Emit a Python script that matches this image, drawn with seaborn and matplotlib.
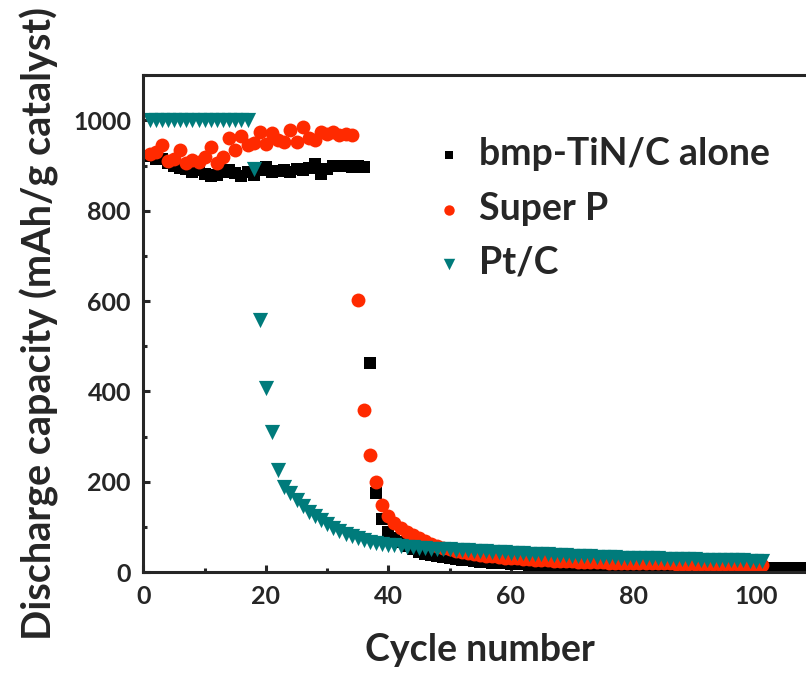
import numpy as np
import pandas as pd
import seaborn as sns
import matplotlib.pyplot as plt
from matplotlib.ticker import MultipleLocator

# discharge capacity (mAh/g catalyst), one value per cycle
bmp_tin = [920, 915, 915, 905, 900, 895, 893, 886, 890, 882,
           876, 880, 886, 890, 883, 876, 886, 880, 890, 897,
           886, 888, 890, 886, 893, 890, 895, 904, 882, 893,
           898, 900, 900, 897, 899, 897, 463, 176, 117, 89,
           76, 66, 57, 50, 45, 41, 38, 35, 33, 31,
           29, 27, 26, 24, 23, 22, 21, 20, 19, 18,
           17, 17, 16, 16, 15, 15, 14, 14, 13, 13,
           13, 12, 12, 12, 11, 11, 11, 11, 10, 10,
           10, 10, 10, 9, 9, 9, 9, 9, 9, 9,
           8, 8, 8, 8, 8, 8, 8, 8, 8, 8,
           8, 8, 8, 8, 8, 8, 8, 8, 8, 8]
super_p = [925, 930, 945, 910, 915, 935, 905, 912, 908, 918,
           940, 905, 918, 960, 935, 965, 945, 950, 975, 948,
           972, 956, 952, 978, 952, 985, 962, 956, 974, 970,
           974, 968, 970, 967, 602, 358, 259, 200, 148, 125,
           108, 97, 88, 81, 75, 69, 63, 58, 54, 50,
           47, 44, 42, 40, 38, 36, 35, 33, 32, 31,
           30, 29, 28, 27, 27, 26, 25, 25, 24, 24,
           23, 23, 22, 22, 22, 21, 21, 21, 20, 20,
           20, 20, 19, 19, 19, 19, 18, 18, 18, 18,
           18, 17, 17, 17, 17, 17, 17, 16, 16, 16,
           16]
pt_c = [1000, 1000, 1000, 1000, 1000, 1000, 1000, 1000, 1000, 1000,
        1000, 1000, 1000, 1000, 1000, 1000, 1000, 893, 557, 407,
        310, 226, 189, 175, 160, 146, 134, 124, 115, 106,
        98, 91, 84, 79, 75, 71, 67, 64, 62, 60,
        59, 57, 56, 55, 54, 53, 52, 52, 51, 50,
        49, 48, 48, 47, 46, 46, 45, 44, 44, 43,
        42, 42, 41, 40, 40, 39, 38, 38, 37, 36,
        36, 35, 35, 34, 34, 33, 33, 32, 32, 31,
        31, 30, 30, 30, 29, 29, 29, 28, 28, 28,
        27, 27, 27, 27, 26, 26, 26, 26, 25, 25,
        25]

labels = ["bmp-TiN/C alone", "Super P", "Pt/C"]
colors = ["#000000", "#FF2A00", "#007B7B"]

sns.set_style("ticks")
plt.rcParams['font.family'] = ['Lato', 'DejaVu Sans']
plt.rcParams['font.weight'] = 'bold'

fig = plt.figure(figsize=(8.06, 6.76), dpi=100)
ax = fig.add_axes([0.178, 0.1538, 0.8356, 0.735])

series = [bmp_tin, super_p, pt_c]
markers = ["s", "o", "v"]
sizes = [72, 100, 120]
for vals, lab, col, mk, sz in zip(series, labels, colors, markers, sizes):
    df = pd.DataFrame({"cycle": np.arange(1, len(vals) + 1), "cap": vals})
    sns.scatterplot(data=df, x="cycle", y="cap", ax=ax, color=col, marker=mk,
                    s=sz, linewidth=0, label=lab, clip_on=False)

ax.set_xlim(0, 110)
ax.set_ylim(0, 1100)
ax.xaxis.set_major_locator(MultipleLocator(20))
ax.xaxis.set_minor_locator(MultipleLocator(10))
ax.yaxis.set_major_locator(MultipleLocator(200))
ax.yaxis.set_minor_locator(MultipleLocator(100))
ax.set_yticks([0, 200, 400, 600, 800, 1000])

for s in ax.spines.values():
    s.set_linewidth(2.2)
ax.tick_params(which='major', direction='in', length=5, width=2.2, labelsize=18, pad=9)
ax.tick_params(which='minor', direction='in', length=3, width=2.2)

ax.set_xlabel("Cycle number", fontsize=27, fontweight='bold', labelpad=18)
ax.set_ylabel("Discharge capacity (mAh/g catalyst)", fontsize=28.5, fontweight='bold', labelpad=10)

ax.legend(frameon=False, loc='upper left', bbox_to_anchor=(0.431, 0.875),
          borderpad=0, borderaxespad=0, handlelength=0.8, handletextpad=0.4,
          labelspacing=0.54, markerscale=0.75,
          prop={'weight': 'bold', 'size': 27})

fig.savefig("out.png", dpi=100)
